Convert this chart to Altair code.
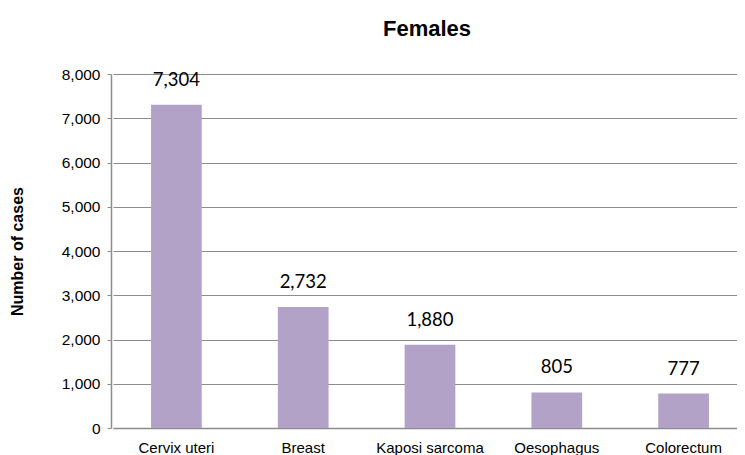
import altair as alt
import pandas as pd

categories = ["Cervix uteri", "Breast", "Kaposi sarcoma", "Oesophagus", "Colorectum"]
cases = [7304, 2732, 1880, 805, 777]
y_ticks = [0, 1000, 2000, 3000, 4000, 5000, 6000, 7000, 8000]

df = pd.DataFrame({"site": categories, "cases": cases})

base = alt.Chart(df).encode(
    x=alt.X("site:N", sort=categories, title=None,
            scale=alt.Scale(paddingInner=0.6, paddingOuter=0.3, range=[2, 636]),
            axis=alt.Axis(labelAngle=0, labelFont="Liberation Sans", labelFontSize=15,
                          labelColor="#000000", ticks=False, domainColor="#8c8c8c",
                          labelPadding=12)),
    y=alt.Y("cases:Q", title="Number of cases",
            scale=alt.Scale(domain=[0, 8000]),
            axis=alt.Axis(values=y_ticks, format=",.0f",
                          labelFont="Liberation Sans", labelFontSize=15.5, labelColor="#000000",
                          tickColor="#8c8c8c", tickSize=4, domainColor="#8c8c8c",
                          gridColor="#8c8c8c", labelPadding=7,
                          titleFont="Liberation Sans", titleFontSize=16, titleFontWeight="bold",
                          titleColor="#000000", titlePadding=36)),
)

bars = base.mark_bar(color="#B3A2C7")
labels = base.mark_text(baseline="alphabetic", dy=-19, font="Lato", fontSize=18.5, color="#000000").encode(
    text=alt.Text("cases:Q", format=",.0f")
)

chart = (bars + labels).properties(
    width=626, height=354,
    title=alt.TitleParams("Females", font="Liberation Sans", fontSize=22, fontWeight="bold",
                          color="#000000", anchor="middle", frame="group", offset=26, dx=3),
    autosize=alt.AutoSizeParams(type="none"),
    padding={"left": 103, "top": 66, "right": 0, "bottom": 27},
).configure_view(stroke=None).configure_axis(gridWidth=1, domainWidth=1.5)

chart.save("out.html", embed_options={"renderer": "svg", "actions": False})
